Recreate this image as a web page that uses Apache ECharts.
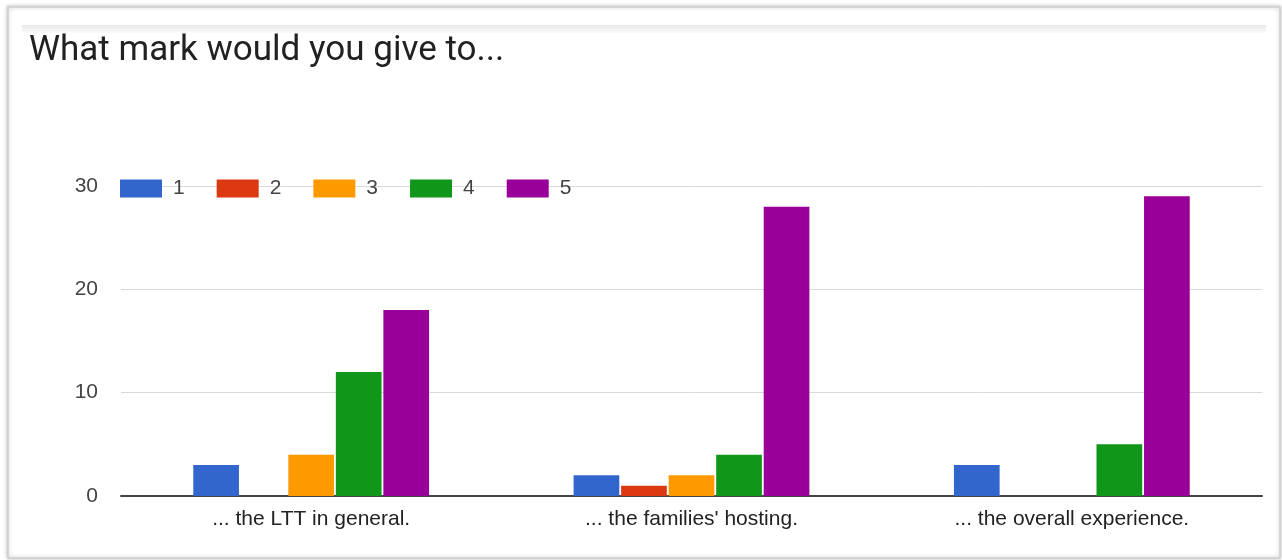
<!DOCTYPE html>
<html>
<head>
<meta charset="utf-8">
<script src="https://cdn.jsdelivr.net/npm/echarts@6/dist/echarts.min.js"></script>
<style>
html,body{margin:0;padding:0;background:#fff;}
#chart{width:1282px;height:560px;}
</style>
</head>
<body>
<div id="chart"></div>
<script>
const titleText = "What mark would you give to...";
const categories = ["... the LTT in general.", "... the families' hosting.", "... the overall experience."];
const seriesNames = ["1", "2", "3", "4", "5"];
const mark1 = [3, 2, 3];
const mark2 = [0, 1, 0];
const mark3 = [4, 2, 0];
const mark4 = [12, 4, 5];
const mark5 = [18, 28, 29];
const seriesValues = [mark1, mark2, mark3, mark4, mark5];
const colors = ["#3366cc", "#dc3912", "#ff9900", "#109618", "#990099"];

const chart = echarts.init(document.getElementById('chart'), null, {renderer: 'canvas'});
const option = {
  animation: false,
  backgroundColor: '#ffffff',
  color: colors,
  title: {
    text: titleText,
    left: 24,
    top: 29,
    textStyle: {fontFamily: 'Roboto', fontSize: 35, fontWeight: 'normal', color: '#212121'}
  },
  legend: {
    left: 115,
    top: 173,
    itemWidth: 42,
    itemHeight: 18,
    itemGap: 32,
    icon: 'rect',
    data: seriesNames,
    textStyle: {fontFamily: 'Liberation Sans', fontSize: 21, color: '#444', padding: [0, 0, 0, 6]}
  },
  grid: {left: 121, right: 20, top: 186, bottom: 64, containLabel: false},
  xAxis: {
    type: 'category',
    data: categories,
    axisTick: {show: false},
    axisLine: {show: true, lineStyle: {color: '#444', width: 2}},
    axisLabel: {fontFamily: 'Liberation Sans', fontSize: 21, color: '#222', margin: 13}
  },
  yAxis: {
    type: 'value',
    min: 0,
    max: 30,
    interval: 10,
    axisLine: {show: false},
    axisTick: {show: false},
    splitLine: {lineStyle: {color: '#d9d9d9', width: 1}},
    axisLabel: {fontFamily: 'Liberation Sans', fontSize: 21, color: '#444', margin: 23}
  },
  graphic: [
    {type: 'rect', z: -10, shape: {x: 8, y: 7, width: 1272, height: 551},
     style: {fill: '#fff', stroke: '#cfcfcf', lineWidth: 1.5, shadowBlur: 4, shadowColor: 'rgba(0,0,0,0.25)'}},
    {type: 'rect', z: -9, shape: {x: 22, y: 25, width: 1244, height: 8},
     style: {fill: new echarts.graphic.LinearGradient(0, 0, 0, 1, [
       {offset: 0, color: '#e6e6e6'}, {offset: 1, color: '#fbfbfb'}])}}
  ],
  series: seriesNames.map((n, i) => ({
    name: n,
    type: 'bar',
    data: seriesValues[i],
    barGap: '4%',
    barCategoryGap: '38%',
    itemStyle: {color: colors[i]}
  }))
};
chart.setOption(option);
</script>
</body>
</html>
